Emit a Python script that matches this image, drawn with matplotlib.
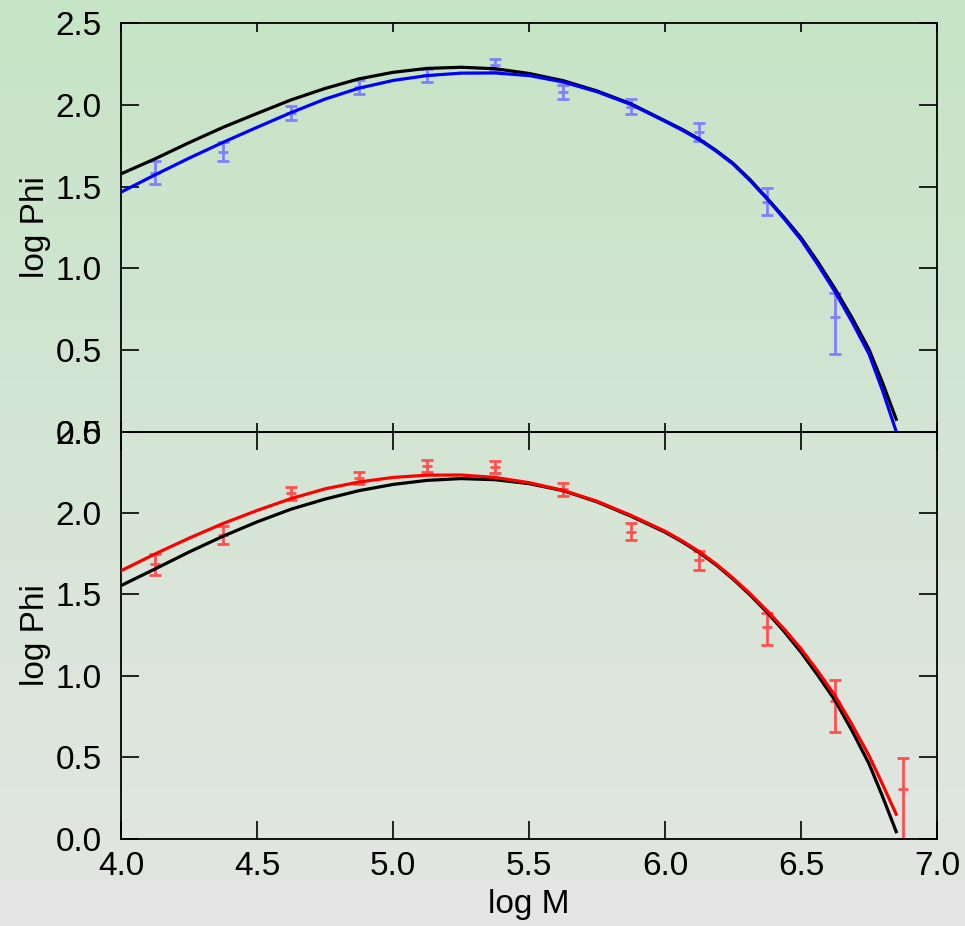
import numpy as np
import matplotlib
matplotlib.use("Agg")
import matplotlib.pyplot as plt

# measured points (bin centres in log M)
x_top = [4.125, 4.375, 4.625, 4.875, 5.125, 5.375, 5.625, 5.875, 6.125, 6.375, 6.625]
y_top = [1.586, 1.715, 1.950, 2.110, 2.183, 2.244, 2.078, 1.990, 1.835, 1.408, 0.700]
lo_top = [0.068, 0.058, 0.045, 0.042, 0.040, 0.036, 0.043, 0.046, 0.053, 0.083, 0.226]
hi_top = [0.068, 0.058, 0.045, 0.042, 0.040, 0.036, 0.043, 0.046, 0.053, 0.083, 0.150]

x_bot = [4.125, 4.375, 4.625, 4.875, 5.125, 5.375, 5.625, 5.875, 6.125, 6.375, 6.625, 6.875]
y_bot = [1.686, 1.866, 2.121, 2.215, 2.288, 2.282, 2.146, 1.884, 1.711, 1.298, 0.843, 0.302]
lo_bot = [0.065, 0.054, 0.041, 0.035, 0.037, 0.037, 0.040, 0.053, 0.061, 0.106, 0.188, 0.305]
hi_bot = [0.061, 0.054, 0.041, 0.035, 0.037, 0.037, 0.040, 0.053, 0.057, 0.088, 0.133, 0.196]

# fitted curves
x_fit = [4.0, 4.125, 4.25, 4.375, 4.5, 4.625, 4.75, 4.875, 5.0, 5.125, 5.25, 5.375,
         5.5, 5.625, 5.75, 5.875, 6.0, 6.0625, 6.125, 6.1875, 6.25, 6.3125, 6.375, 6.4375,
         6.5, 6.5625, 6.625, 6.6875, 6.75, 6.8, 6.85]
top_black = [1.578, 1.670, 1.769, 1.863, 1.948, 2.031, 2.101, 2.160, 2.200, 2.224, 2.231, 2.222,
             2.193, 2.149, 2.086, 2.007, 1.903, 1.851, 1.792, 1.722, 1.643, 1.543, 1.429, 1.312,
             1.187, 1.037, 0.874, 0.697, 0.503, 0.298, 0.075]
top_blue = [1.466, 1.572, 1.674, 1.771, 1.863, 1.953, 2.036, 2.103, 2.150, 2.180, 2.195, 2.196,
            2.180, 2.141, 2.081, 2.003, 1.900, 1.846, 1.788, 1.718, 1.638, 1.537, 1.425, 1.304,
            1.175, 1.020, 0.856, 0.672, 0.475, 0.250, 0.0]
bot_black = [1.554, 1.656, 1.760, 1.857, 1.945, 2.023, 2.085, 2.137, 2.175, 2.200, 2.211, 2.204,
             2.180, 2.137, 2.068, 1.980, 1.882, 1.823, 1.758, 1.681, 1.594, 1.497, 1.390, 1.273,
             1.145, 1.001, 0.849, 0.663, 0.460, 0.258, 0.043]
bot_red = [1.645, 1.748, 1.845, 1.935, 2.015, 2.088, 2.148, 2.190, 2.218, 2.232, 2.233, 2.218,
           2.186, 2.139, 2.072, 1.985, 1.888, 1.829, 1.764, 1.687, 1.600, 1.505, 1.400, 1.288,
           1.166, 1.027, 0.878, 0.701, 0.510, 0.333, 0.150]

yticks = [0.0, 0.5, 1.0, 1.5, 2.0, 2.5]
xticks = [4.0, 4.5, 5.0, 5.5, 6.0, 6.5, 7.0]

plt.rcParams['font.family'] = ['Liberation Sans', 'DejaVu Sans']

fig = plt.figure(figsize=(9.65, 9.26), dpi=100)

# background gradient
bg = fig.add_axes([0, 0, 1, 1], zorder=-10)
h = 926
rows = np.zeros((h, 1, 3))
top_c = np.array([198, 228, 198]) / 255
mid_c = np.array([226, 230, 226]) / 255
flat_c = np.array([229, 229, 229]) / 255
for i in range(h):
    if i < 880:
        t = i / 880
        rows[i, 0] = top_c * (1 - t) + mid_c * t
    else:
        rows[i, 0] = flat_c
bg.imshow(rows, aspect='auto', extent=[0, 1, 0, 1])
bg.axis('off')

ax1 = fig.add_axes([0.1254, 0.534, 0.8456, 0.4408])
ax2 = fig.add_axes([0.1254, 0.0943, 0.8456, 0.4397])

blue_pt = '#8080ff'
red_pt = '#ff5050'

ax1.errorbar(x_top, y_top, yerr=[lo_top, hi_top], fmt='_', color=blue_pt, ms=7, mew=2,
             elinewidth=2, capsize=4, capthick=2, zorder=2)
ax1.plot(x_fit, top_black, color='black', lw=2.3, zorder=3)
ax1.plot(x_fit, top_blue, color='#0000ff', lw=2.3, zorder=4)

ax2.errorbar(x_bot, y_bot, yerr=[lo_bot, hi_bot], fmt='_', color=red_pt, ms=7, mew=2,
             elinewidth=2, capsize=4, capthick=2, zorder=2)
ax2.plot(x_fit, bot_black, color='black', lw=2.3, zorder=3)
ax2.plot(x_fit, bot_red, color='#ff0000', lw=2.3, zorder=4)

for ax in (ax1, ax2):
    ax.set_facecolor('none')
    ax.set_xlim(4.0, 7.0)
    ax.set_ylim(0.0, 2.5)
    ax.set_xticks(xticks)
    ax.set_yticks(yticks)
    ax.set_yticklabels(['%.1f' % v for v in yticks])
    ax.tick_params(direction='in', top=True, right=True, labelsize=24, width=1.2,
                   length=13, colors='black')
    ax.tick_params(axis='y', pad=14)
    for s in ax.spines.values():
        s.set_linewidth(1.3)
    ax.set_ylabel('log Phi', fontsize=24, labelpad=3)

ax1.tick_params(axis='x', length=6.5, labelbottom=False)
ax2.set_xticklabels(['%.1f' % v for v in xticks])
ax2.tick_params(axis='x', pad=9)
ax2.set_xlabel('log M', fontsize=24, labelpad=5)

fig.savefig('out.png', dpi=100)
